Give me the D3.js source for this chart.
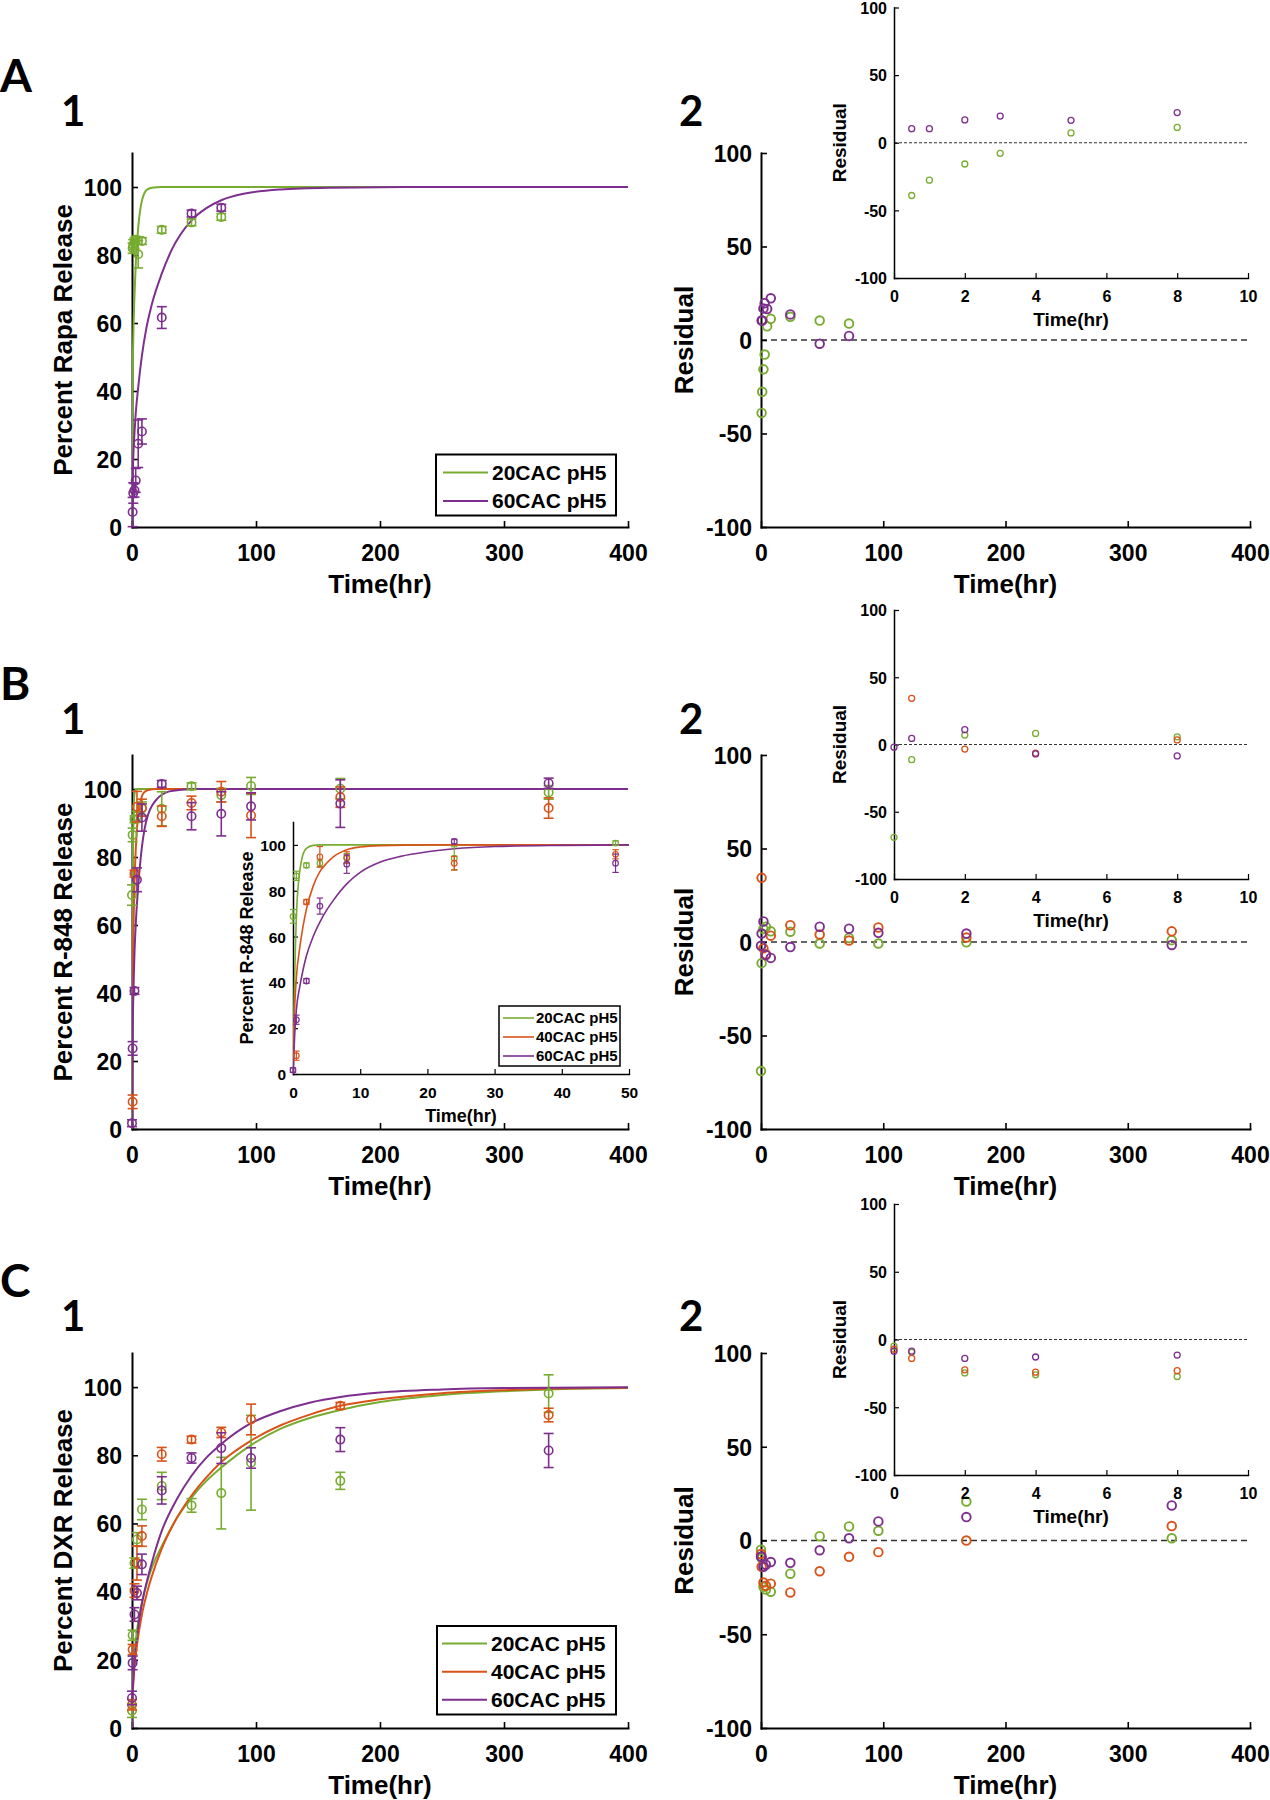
<!DOCTYPE html>
<html>
<head>
<meta charset="utf-8">
<script src="https://cdn.jsdelivr.net/npm/d3@7"></script>
<style>
body { margin: 0; background: #fff; }
svg text { font-family: "Liberation Sans", Arial, sans-serif; font-weight: bold; }
.tag { font-family: Lato, "Open Sans", sans-serif; font-weight: 700; }
</style>
</head>
<body>
<script>
// MATLAB default colours
var c20 = '#77AC30', c40 = '#D95319', c60 = '#7E2F8E';
var labels = ['20CAC pH5', '40CAC pH5', '60CAC pH5'];

// ---------- A : Rapa ----------
var tA = [0.5, 1, 2, 3, 5, 8, 24, 48, 72];
var rapa20 = [82, 83, 83.5, 84.5, 80.2, 84.1, 87.4, 89.6, 91.2];
var rapa20Err = [1.5, 1.5, 1.5, 1, 4, 1, 1, 1, 1];
var rapa60 = [4.4, 10, 10.8, 13.7, 24.5, 28.1, 61.6, 92.2, 93.9];
var rapa60Err = [4.3, 3, 2, 3.5, 7, 3.7, 3.2, 1, 1];
var rapaRes20 = [-39, -27.7, -15.7, -7.8, 7.3, 11.3, 12.4, 10.4, 8.8];
var rapaRes60 = [10.4, 10.4, 16.9, 19.7, 16.6, 22.3, 13.7, -2, 2.2];
var fitA20 = [[0,0],[0.1,18],[0.25,31],[0.5,43],[1,55],[2,68],[3,77],[5,88],[8,96],[12,99.2],[16,99.8],[24,100],[400,100]];
var fitA60 = [[0,0],[0.5,14.8],[1,20.4],[2,27.7],[3,33.4],[5,41],[8,50.4],[11.6,58.5],[16,65.5],[24,74.5],[32,81.5],[48,90.2],[60,93.8],[72,96.1],[90,98],[120,99.3],[160,99.8],[220,100],[400,100]];

// ---------- B : R-848 ----------
var tB = [0, 0.5, 2, 4, 8, 24, 48, 72, 96, 168, 336];
var tB40 = [0.5, 2, 4, 8, 24, 48, 72, 96, 168, 336];
var r848_20 = [68.8, 86.5, 91.1, 92, 94.2, 94.2, 100.8, 98.2, 100.9, 100.1, 99];
var r848_20Err = [3, 2, 1, 1.5, 2, 5, 1, 2, 2.5, 3, 2];
var r848_40 = [8, 75.1, 94.8, 94.5, 92, 95.9, 99.2, 92.2, 97.6, 94.4];
var r848_40Err = [2, 1, 4.5, 2.5, 3, 2, 3, 6.5, 3, 3];
var r848_60 = [1.7, 23.7, 40.6, 73.3, 91.6, 101.5, 92, 92.7, 94.9, 95.7, 101.7];
var r848_60Err = [1, 2, 1, 3.5, 4, 1, 4, 6.5, 4, 7, 1.5];
var r848Res20 = [-69, -11.3, 7, 8.2, 5.7, 5.5, -0.8, 2.2, -0.8, -0.2, 1];
var r848Res40 = [34.3, -3.4, -6.5, 3.4, 9, 4, 0.8, 7.8, 2.4, 5.7];
var r848Res60 = [-2, 4.5, 11, -7, -8.5, -2.7, 8.2, 7.1, 4.9, 4.5, -1.6];
var fitB20 = [[0,0],[0.1,20],[0.2,36],[0.35,54],[0.6,75],[0.8,83],[1.1,90.5],[1.5,96],[2,98.5],[3,99.8],[4,100],[400,100]];
var fitB40 = [[0,0],[0.2,25],[0.5,42],[1,55],[1.5,64.5],[2,72],[3,82],[4,88.3],[5,92],[6,94.8],[8,97.9],[10,99.1],[13,99.7],[20,100],[400,100]];
var fitB60 = [[0,0],[0.25,17],[0.5,28],[1,38],[1.5,45.5],[2,51.6],[3,60],[4,66.3],[5,71.5],[6,75.8],[8,83],[10,88],[13,92.5],[16,95],[20,97],[24,98.3],[30,99.3],[40,99.8],[50,100],[400,100]];

// ---------- C : DXR ----------
var tC = [0, 0.5, 2, 4, 8, 24, 48, 72, 96, 168, 336];
var dxr20 = [5.1, 27.2, 48.4, 55.3, 64.1, 71, 65.3, 68.9, 77.8, 72.5, 98.1];
var dxr20Err = [2, 1.5, 1.5, 2, 3, 4, 2, 10.5, 13.9, 2.5, 5.5];
var dxr40 = [6.8, 23, 40.3, 48.4, 56.3, 80.3, 84.6, 86.7, 90.5, 94.5, 91.8];
var dxr40Err = [1.5, 1.5, 2, 5, 3, 2, 1, 1.5, 4.5, 1, 2];
var dxr60 = [8.8, 19.1, 33.3, 39.6, 48, 69.7, 79.2, 82.1, 79.2, 84.6, 81.4];
var dxr60Err = [2, 2, 2, 2, 3, 4, 1.5, 4.5, 3, 3.5, 5];
var dxrRes20 = [-4.9, -9.5, -24.7, -26.1, -27.3, -17.7, 2.3, 7.5, 5.2, 20.8, 1.2];
var dxrRes40 = [-7.2, -14, -22.4, -24.1, -23, -27.7, -16.4, -8.7, -6.2, 0, 7.7];
var dxrRes60 = [-8.6, -8.6, -14, -12.9, -11.5, -11.9, -5.2, 1.2, 10.2, 12.5, 18.7];
var fitC20 = [[0,0],[0.5,12],[1,16],[2,21.5],[4,28.5],[8,36.8],[12,42.5],[16,47],[24,53.3],[36,61.5],[48,67.6],[60,72.5],[72,76.4],[96,83],[120,87.8],[144,91],[168,93.3],[200,95.6],[250,97.7],[300,98.8],[336,99.3],[400,99.7]];
var fitC40 = [[0,0],[0.5,9],[1,12.5],[2,17.9],[4,24.3],[8,33.3],[12,39.5],[16,44.5],[24,52.6],[36,61.5],[48,68.2],[60,73.5],[72,78],[96,84.3],[120,88.8],[144,92],[168,94.5],[200,96.4],[250,98.2],[300,99.1],[336,99.5],[400,99.8]];
var fitC60 = [[0,0],[0.5,10.5],[1,14],[2,19.3],[4,26.7],[8,36.5],[12,43],[16,48.5],[24,57.8],[36,67],[48,74],[60,79.3],[72,83.3],[96,89.4],[120,93],[144,95.5],[168,97.1],[200,98.4],[250,99.3],[300,99.7],[400,99.95]];

var xMainTicks = [0, 100, 200, 300, 400];
var yRelTicks = [0, 20, 40, 60, 80, 100];
var yResTicks = [-100, -50, 0, 50, 100];
var xInsResTicks = [0, 2, 4, 6, 8, 10];
var xInsRelTicks = [0, 10, 20, 30, 40, 50];

var svg = d3.select('body').append('svg').attr('width', 1270).attr('height', 1800);
var defs = svg.append('defs');
var clipN = 0;
var plain = function(d) { return String(d); };   // hyphen minus like MATLAB

function makeAxes(o) {
  var x = d3.scaleLinear().domain(o.xd).range([o.l, o.r]);
  var y = d3.scaleLinear().domain(o.yd).range([o.b, o.t]);
  var g = svg.append('g');
  var gx = g.append('g').attr('transform', 'translate(0,' + o.b + ')')
    .call(d3.axisBottom(x).tickValues(o.xt).tickFormat(plain).tickSizeInner(-o.tk).tickSizeOuter(0).tickPadding(o.xp));
  var gy = g.append('g').attr('transform', 'translate(' + o.l + ',0)')
    .call(d3.axisLeft(y).tickValues(o.yt).tickFormat(plain).tickSizeInner(-o.tk).tickSizeOuter(0).tickPadding(o.yp));
  [gx, gy].forEach(function(a) {
    a.select('.domain').attr('stroke', '#000').attr('stroke-width', o.lw).attr('stroke-linecap', 'square');
    a.selectAll('.tick line').attr('stroke', '#000').attr('stroke-width', o.lw * 0.8);
    a.selectAll('.tick text').attr('fill', '#000').style('font-size', o.fs + 'px');
  });
  gy.selectAll('.tick text').attr('dy', '0.36em');
  g.append('text').attr('x', (o.l + o.r) / 2).attr('y', o.b + o.xtd)
    .attr('text-anchor', 'middle').style('font-size', o.tfs + 'px').text('Time(hr)');
  g.append('text').attr('transform', 'translate(' + o.ytx + ',' + ((o.t + o.b) / 2) + ') rotate(-90)')
    .attr('text-anchor', 'middle').attr('dy', '0.36em').style('font-size', o.tfs + 'px').text(o.yTitle);
  var id = 'clip' + (clipN++);
  defs.append('clipPath').attr('id', id).append('rect')
    .attr('x', o.l).attr('y', o.t - 10).attr('width', o.r - o.l).attr('height', o.b - o.t + 10);
  var plot = g.append('g').attr('clip-path', 'url(#' + id + ')');
  return { g: g, plot: plot, x: x, y: y };
}

function drawFit(ax, pts, col, w) {
  var line = d3.line().x(function(d) { return ax.x(d[0]); }).y(function(d) { return ax.y(d[1]); })
    .curve(d3.curveMonotoneX);
  ax.plot.append('path').datum(pts).attr('d', line).attr('fill', 'none')
    .attr('stroke', col).attr('stroke-width', w);
}

function drawErr(ax, ts, vs, es, col, r, sw, cap) {
  var xmax = ax.x.domain()[1];
  var rows = ts.map(function(t, i) { return { t: t, v: vs[i], e: es[i] }; })
    .filter(function(d) { return d.t <= xmax; });
  var g = ax.g.append('g').attr('stroke', col).attr('stroke-width', sw).attr('fill', 'none');
  var p = g.selectAll('g').data(rows).enter().append('g');
  p.append('line').attr('x1', function(d) { return ax.x(d.t); }).attr('x2', function(d) { return ax.x(d.t); })
    .attr('y1', function(d) { return ax.y(d.v - d.e); }).attr('y2', function(d) { return ax.y(d.v + d.e); });
  [-1, 1].forEach(function(s) {
    p.append('line').attr('x1', function(d) { return ax.x(d.t) - cap; }).attr('x2', function(d) { return ax.x(d.t) + cap; })
      .attr('y1', function(d) { return ax.y(d.v + s * d.e); }).attr('y2', function(d) { return ax.y(d.v + s * d.e); });
  });
  p.append('circle').attr('cx', function(d) { return ax.x(d.t); }).attr('cy', function(d) { return ax.y(d.v); }).attr('r', r);
}

function drawRes(ax, ts, vs, col, r, sw) {
  var xmax = ax.x.domain()[1];
  var rows = ts.map(function(t, i) { return { t: t, v: vs[i] }; }).filter(function(d) { return d.t <= xmax; });
  ax.g.append('g').selectAll('circle').data(rows).enter().append('circle')
    .attr('cx', function(d) { return ax.x(d.t); }).attr('cy', function(d) { return ax.y(d.v); })
    .attr('r', r).attr('fill', 'none').attr('stroke', col).attr('stroke-width', sw);
}

function zeroLine(ax, w, dash) {
  ax.g.insert('line', ':first-child').attr('x1', ax.x(ax.x.domain()[0])).attr('x2', ax.x(ax.x.domain()[1]))
    .attr('y1', ax.y(0)).attr('y2', ax.y(0)).attr('stroke', '#333').attr('stroke-width', w)
    .attr('stroke-dasharray', dash);
}

function legend(o) {
  var g = svg.append('g');
  g.append('rect').attr('x', o.x0).attr('y', o.y0).attr('width', o.x1 - o.x0).attr('height', o.y1 - o.y0)
    .attr('fill', '#fff').attr('stroke', '#000').attr('stroke-width', o.bw);
  o.rows.forEach(function(ry, i) {
    g.append('line').attr('x1', o.lx0).attr('x2', o.lx1).attr('y1', ry).attr('y2', ry)
      .attr('stroke', o.cols[i]).attr('stroke-width', o.lw);
    g.append('text').attr('x', o.tx).attr('y', ry).attr('dy', '0.36em').style('font-size', o.fs + 'px').text(o.names[i]);
  });
}

function tag(txt, x, y, fs) {
  svg.append('text').attr('class', 'tag').attr('x', x).attr('y', y).style('font-size', fs + 'px').text(txt);
}

function relMain(top, bot, yTitle) {
  return makeAxes({ l: 132, r: 628, t: top, b: bot, xd: [0, 400], yd: [0, 110], xt: xMainTicks, yt: yRelTicks,
    tk: 6, xp: 18, yp: 10, lw: 2, fs: 23, tfs: 26, xtd: 66, yTitle: yTitle, ytx: 63 });
}
function resMain(top, bot) {
  return makeAxes({ l: 761, r: 1250, t: top, b: bot, xd: [0, 400], yd: [-100, 100], xt: xMainTicks, yt: yResTicks,
    tk: 6, xp: 18, yp: 9, lw: 2, fs: 23, tfs: 26, xtd: 66, yTitle: 'Residual', ytx: 684 });
}
function resInset(top, bot) {
  return makeAxes({ l: 894, r: 1248, t: top, b: bot, xd: [0, 10], yd: [-100, 100], xt: xInsResTicks, yt: yResTicks,
    tk: 5, xp: 12.5, yp: 7, lw: 1.5, fs: 16, tfs: 19, xtd: 48, yTitle: 'Residual', ytx: 839 });
}

// ================= Row A =================
tag('A', 0, 92, 46); tag('1', 61, 126, 42); tag('2', 679, 126, 42);
var a1 = relMain(153, 527, 'Percent Rapa Release');
drawErr(a1, tA, rapa20, rapa20Err, c20, 4.2, 1.6, 5);
drawErr(a1, tA, rapa60, rapa60Err, c60, 4.2, 1.6, 5);
drawFit(a1, fitA20, c20, 2);
drawFit(a1, fitA60, c60, 2);
legend({ x0: 436, y0: 454.5, x1: 616, y1: 515.5, rows: [472.4, 500.9], lx0: 443, lx1: 488, tx: 492,
  cols: [c20, c60], names: [labels[0], labels[2]], fs: 21, lw: 2, bw: 2 });

var a2 = resMain(153, 527);
zeroLine(a2, 1.3, '6,4');
drawRes(a2, tA, rapaRes20, c20, 4.3, 1.9);
drawRes(a2, tA, rapaRes60, c60, 4.3, 1.9);
var a2i = resInset(7.5, 278);
zeroLine(a2i, 1, '3,2');
drawRes(a2i, tA, rapaRes20, c20, 3, 1.3);
drawRes(a2i, tA, rapaRes60, c60, 3, 1.3);

// ================= Row B =================
tag('B', 0, 700, 46); tag('1', 61, 734, 42); tag('2', 679, 734, 42);
var b1 = relMain(755, 1129, 'Percent R-848 Release');
drawErr(b1, tB, r848_20, r848_20Err, c20, 4.2, 1.6, 5);
drawErr(b1, tB40, r848_40, r848_40Err, c40, 4.2, 1.6, 5);
drawErr(b1, tB, r848_60, r848_60Err, c60, 4.2, 1.6, 5);
drawFit(b1, fitB20, c20, 2);
drawFit(b1, fitB40, c40, 2);
drawFit(b1, fitB60, c60, 2);

var b1i = makeAxes({ l: 293, r: 629, t: 822, b: 1074, xd: [0, 50], yd: [0, 110], xt: xInsRelTicks, yt: yRelTicks,
  tk: 5, xp: 13, yp: 7, lw: 1.5, fs: 15.5, tfs: 18, xtd: 48, yTitle: 'Percent R-848 Release', ytx: 247 });
drawErr(b1i, tB, r848_20, r848_20Err, c20, 2.8, 1.2, 3.2);
drawErr(b1i, tB40, r848_40, r848_40Err, c40, 2.8, 1.2, 3.2);
drawErr(b1i, tB, r848_60, r848_60Err, c60, 2.8, 1.2, 3.2);
drawFit(b1i, fitB20, c20, 1.6);
drawFit(b1i, fitB40, c40, 1.6);
drawFit(b1i, fitB60, c60, 1.6);
legend({ x0: 499, y0: 1006, x1: 620, y1: 1066, rows: [1018, 1037, 1056], lx0: 503, lx1: 534, tx: 536,
  cols: [c20, c40, c60], names: labels, fs: 15, lw: 1.6, bw: 1.5 });

var b2 = resMain(755, 1129);
zeroLine(b2, 1.3, '6,4');
drawRes(b2, tB, r848Res20, c20, 4.3, 1.9);
drawRes(b2, tB40, r848Res40, c40, 4.3, 1.9);
drawRes(b2, tB, r848Res60, c60, 4.3, 1.9);
var b2i = resInset(610, 879);
zeroLine(b2i, 1, '3,2');
drawRes(b2i, tB, r848Res20, c20, 3, 1.3);
drawRes(b2i, tB40, r848Res40, c40, 3, 1.3);
drawRes(b2i, tB, r848Res60, c60, 3, 1.3);

// ================= Row C =================
tag('C', 0, 1297, 46); tag('1', 61, 1331, 42); tag('2', 679, 1331, 42);
var c1 = relMain(1353, 1728, 'Percent DXR Release');
drawErr(c1, tC, dxr20, dxr20Err, c20, 4.2, 1.6, 5);
drawErr(c1, tC, dxr40, dxr40Err, c40, 4.2, 1.6, 5);
drawErr(c1, tC, dxr60, dxr60Err, c60, 4.2, 1.6, 5);
drawFit(c1, fitC20, c20, 2);
drawFit(c1, fitC40, c40, 2);
drawFit(c1, fitC60, c60, 2);
legend({ x0: 437, y0: 1626, x1: 616, y1: 1714.5, rows: [1643.4, 1671.7, 1699.7], lx0: 442, lx1: 487, tx: 491,
  cols: [c20, c40, c60], names: labels, fs: 21, lw: 2, bw: 2 });

var c2 = resMain(1353, 1728);
zeroLine(c2, 1.3, '6,4');
drawRes(c2, tC, dxrRes20, c20, 4.3, 1.9);
drawRes(c2, tC, dxrRes40, c40, 4.3, 1.9);
drawRes(c2, tC, dxrRes60, c60, 4.3, 1.9);
var c2i = resInset(1204, 1475);
zeroLine(c2i, 1, '3,2');
drawRes(c2i, tC, dxrRes20, c20, 3, 1.3);
drawRes(c2i, tC, dxrRes40, c40, 3, 1.3);
drawRes(c2i, tC, dxrRes60, c60, 3, 1.3);
</script>
</body>
</html>
